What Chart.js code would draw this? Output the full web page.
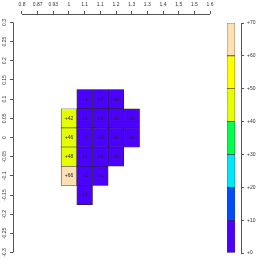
<!DOCTYPE html>
<html><head><meta charset="utf-8">
<script src="https://cdn.jsdelivr.net/npm/chart.js@4"></script>
<style>
html,body{margin:0;padding:0;background:#fff;}
#wrap{position:relative;width:264px;height:264px;overflow:hidden;}
canvas{position:absolute;left:0;top:0;}
</style></head><body>
<div id="wrap"><canvas id="main" width="264" height="264"></canvas><canvas id="bar" width="264" height="264"></canvas></div>
<script>
// ---- data ----
const xTickValues = [0.8, 0.8667, 0.9333, 1, 1.0667, 1.1333, 1.2, 1.2667, 1.3333, 1.4, 1.4667, 1.5333, 1.6];
const xTickLabels = ['0.8','0.87','0.93','1','1.1','1.1','1.2','1.3','1.3','1.4','1.5','1.5','1.6'];
const yTickValues = [-0.3, -0.25, -0.2, -0.15, -0.1, -0.05, 0, 0.05, 0.1, 0.15, 0.2, 0.25, 0.3];
const yTickLabels = ['-0.3','-0.25','-0.2','-0.15','-0.1','-0.05','0','0.05','0.1','0.15','0.2','0.25','0.3'];

const cellX = [1.0667, 1.1333, 1.2,
               1, 1.0667, 1.1333, 1.2, 1.2667,
               1, 1.0667, 1.1333, 1.2, 1.2667,
               1, 1.0667, 1.1333, 1.2,
               1, 1.0667, 1.1333,
               1.0667];
const cellY = [0.1, 0.1, 0.1,
               0.05, 0.05, 0.05, 0.05, 0.05,
               0, 0, 0, 0, 0,
               -0.05, -0.05, -0.05, -0.05,
               -0.1, -0.1, -0.1,
               -0.15];
const cellValue = [1, 0, 0,
                   42, 1, 0, 0, 0,
                   46, 1, 0, 0, 0,
                   48, 1, 0, 0,
                   66, 1, 1,
                   1];

const levelBreaks = [0, 10, 20, 30, 40, 50, 60, 70];
const levelLabels = ['+0','+10','+20','+30','+40','+50','+60','+70'];
const levelColors = ['#4C00FF','#004CFF','#00E5FF','#00FF4D','#E6FF00','#FFFF00','#FFE0B3'];

// ---- styles ----
const FONT = '"Liberation Sans", Arial, sans-serif';
const axisColor = '#555';
const textColor = '#333';
const cellHalfH = (yTickValues[1] - yTickValues[0]) / 2;

function colorFor(v) {
  for (let i = 0; i < levelColors.length; i++) {
    if (v < levelBreaks[i + 1]) return levelColors[i];
  }
  return levelColors[levelColors.length - 1];
}

const axisLines = {
  id: 'axisLines',
  afterDraw(chart) {
    const ctx = chart.ctx, xs = chart.scales.x, ys = chart.scales.y;
    ctx.save();
    ctx.strokeStyle = axisColor; ctx.lineWidth = 1;
    ctx.beginPath();
    const yl = Math.round(ys.right - 0.5) + 0.5;
    ctx.moveTo(yl, ys.getPixelForValue(yTickValues[0]));
    ctx.lineTo(yl, ys.getPixelForValue(yTickValues[yTickValues.length - 1]));
    const xl = Math.round(xs.bottom - 0.5) + 0.5;
    ctx.moveTo(xs.getPixelForValue(xTickValues[0]), xl);
    ctx.lineTo(xs.getPixelForValue(xTickValues[xTickValues.length - 1]), xl);
    ctx.stroke();
    ctx.restore();
  }
};

const cellText = {
  id: 'cellText',
  afterDatasetsDraw(chart) {
    const meta = chart.getDatasetMeta(0), ctx = chart.ctx;
    ctx.save();
    ctx.font = '5px ' + FONT;
    ctx.fillStyle = '#222';
    ctx.textAlign = 'center';
    ctx.textBaseline = 'middle';
    meta.data.forEach((el, i) => {
      ctx.fillText('+' + cellValue[i], el.x, (el.y + el.base) / 2);
    });
    ctx.restore();
  }
};

new Chart(document.getElementById('main'), {
  type: 'bar',
  data: {
    datasets: [{
      data: cellX.map((x, i) => ({ x: x, y: [cellY[i] - cellHalfH, cellY[i] + cellHalfH] })),
      backgroundColor: cellValue.map(colorFor),
      borderColor: '#222',
      borderWidth: 0.6,
      borderSkipped: false,
      barPercentage: 1,
      categoryPercentage: 1
    }]
  },
  options: {
    responsive: false, animation: false, devicePixelRatio: 1,
    layout: { padding: { left: 0, top: 0, right: 45, bottom: 2 } },
    plugins: { legend: { display: false }, tooltip: { enabled: false } },
    scales: {
      x: {
        type: 'linear', position: 'top', min: 0.762, max: 1.638, offset: false,
        afterBuildTicks: s => { s.ticks = xTickValues.map(v => ({ value: v })); },
        afterFit: s => { s.height = 14; },
        grid: { offset: false, drawOnChartArea: false, drawTicks: true, tickLength: 3, color: axisColor, lineWidth: 1 },
        border: { display: false },
        ticks: { autoSkip: false, maxRotation: 0, minRotation: 0, padding: 3, color: textColor,
                 font: { family: FONT, size: 5 }, callback: (v, i) => xTickLabels[i] }
      },
      y: {
        type: 'linear', position: 'left', min: -0.322, max: 0.322,
        afterBuildTicks: s => { s.ticks = yTickValues.map(v => ({ value: v })); },
        afterFit: s => { s.width = 13; },
        grid: { drawOnChartArea: false, drawTicks: true, tickLength: 3, color: axisColor, lineWidth: 1 },
        border: { display: false },
        ticks: { autoSkip: false, minRotation: 90, maxRotation: 90, crossAlign: 'center', padding: 0,
                 color: textColor, font: { family: FONT, size: 5 }, callback: (v, i) => yTickLabels[i] }
      }
    }
  },
  plugins: [axisLines, cellText]
});

// ---- colour bar ----
new Chart(document.getElementById('bar'), {
  type: 'bar',
  data: {
    labels: [''],
    datasets: levelColors.map((c, i) => ({
      data: [levelBreaks[i + 1] - levelBreaks[i]],
      backgroundColor: c, borderColor: '#333', borderWidth: 0.6, borderSkipped: false,
      barPercentage: 1, categoryPercentage: 1, xAxisID: 'x', yAxisID: 'y'
    }))
  },
  options: {
    responsive: false, animation: false, devicePixelRatio: 1,
    layout: { padding: { left: 227, top: 23, right: 0, bottom: 11 } },
    plugins: { legend: { display: false }, tooltip: { enabled: false } },
    scales: {
      x: { type: 'category', display: false, stacked: true },
      y: {
        type: 'linear', position: 'right', weight: 1, stacked: true, min: 0, max: 70,
        afterBuildTicks: s => { s.ticks = levelBreaks.map(v => ({ value: v })); },
        afterFit: s => { s.width = 23; },
        grid: { drawOnChartArea: false, drawTicks: true, tickLength: 3, color: axisColor, lineWidth: 1 },
        border: { display: true, color: axisColor, width: 1 },
        ticks: { autoSkip: false, padding: 3, color: textColor, font: { family: FONT, size: 5 },
                 callback: (v, i) => levelLabels[i] }
      },
      gap: {
        type: 'linear', position: 'right', weight: 0, display: true,
        afterFit: s => { s.width = 6; },
        grid: { display: false }, border: { display: false }, ticks: { display: false }
      }
    }
  }
});
</script>
</body></html>
